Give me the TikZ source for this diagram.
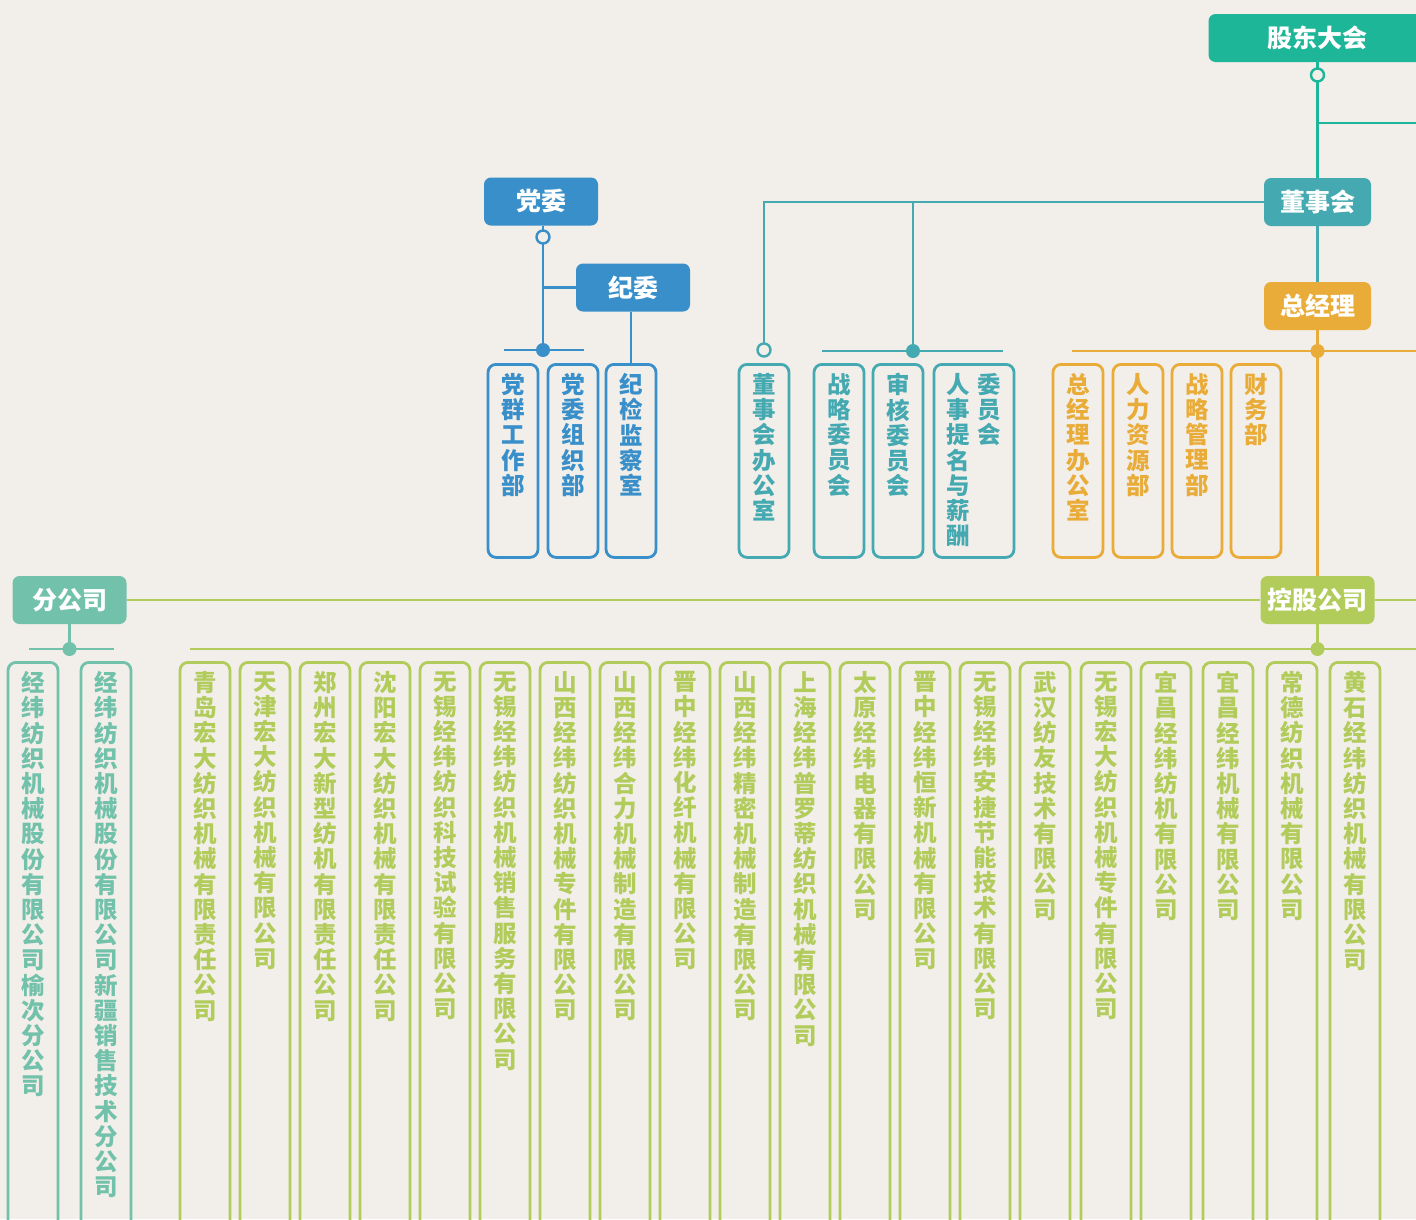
\documentclass[tikz,border=0pt]{standalone}
\usepackage{fontspec}
\usepackage{xcolor}
\usetikzlibrary{positioning}
\newfontfamily\cjk{Noto Sans CJK SC}

\definecolor{bgpaper}{HTML}{F2EEE9}
\definecolor{gudong}{HTML}{1EB698}
\definecolor{dongshi}{HTML}{45A9B1}
\definecolor{jingli}{HTML}{E9AC38}
\definecolor{dangwei}{HTML}{388FC9}
\definecolor{fengs}{HTML}{72C1AA}
\definecolor{konggu}{HTML}{B2CC5C}

\makeatletter
% one column of characters, read top to bottom
\newcommand\colchars[2]{\begin{minipage}[t][#1][t]{1.1em}\centering
  \edef\cc@list{#2}\expandafter\cc@loop\cc@list\@nil\end{minipage}}
\def\cc@loop#1{\ifx#1\@nil\else#1\par\expandafter\cc@loop\fi}
\makeatother

\begin{document}
\begin{tikzpicture}[x=1pt,y=-1pt,
  head/.style={rounded corners=7pt,text=white,inner sep=0pt,
    minimum width=114pt,minimum height=48pt,
    font=\cjk\bfseries\fontsize{25}{28}\selectfont},
  unit/.style={draw,line width=2.8pt,rounded corners=8pt,anchor=north,
    inner sep=0pt,minimum width=50pt,
    font=\cjk\bfseries\fontsize{23.5}{25.2}\selectfont},
  upper/.style={unit,minimum height=193pt},
  lower/.style={unit,minimum height=580pt},
  link/.style={line width=2.8pt},
  hollow/.style={circle,draw=#1,line width=2.4pt,fill=bgpaper,inner sep=0pt,minimum size=13pt},
  joint/.style={circle,fill=#1,inner sep=0pt,minimum size=14pt}]
\useasboundingbox (0,0) rectangle (1416,1219);
\fill[bgpaper] (0,0) rectangle (1416,1219);

% heads
\node[head,fill=gudong,minimum width=218pt] (gd) at (1317.5,38) {股东大会};
\node[head,fill=dongshi,minimum width=107pt] (dsh) at (1317.5,202) {董事会};
\node[head,fill=jingli,minimum width=107pt] (zjl) at (1317.5,306) {总经理};
\node[head,fill=dangwei] (dw) at (541,201.5) {党委};
\node[head,fill=dangwei] (jw) at (633,287.5) {纪委};
\node[head,fill=fengs] (fgs) at (69.5,600) {分公司};
\node[head,fill=konggu] (kg) at (1317.5,600) {控股公司};

% departments
\foreach \px/\nm [count=\i] in {513/党群工作部,573/党委组织部,631/纪检监察室}
  \node[upper,dangwei] (d\i) at (\px,363) {\colchars{175pt}{\nm}};
\foreach \px/\nm [count=\i] in {764/董事会办公室,839/战略委员会,898/审核委员会}
  \node[upper,dongshi] (t\i) at (\px,363) {\colchars{175pt}{\nm}};
\node[upper,dongshi,minimum width=80pt] (t4) at (974,363)
  {\colchars{175pt}{人事提名与薪酬}\hspace{5pt}\colchars{175pt}{委员会}};
\foreach \px/\nm [count=\i] in {1078/总经理办公室,1138/人力资源部,1197/战略管理部,1256/财务部}
  \node[upper,jingli] (g\i) at (\px,363) {\colchars{175pt}{\nm}};

% companies
\foreach \px/\nm [count=\i] in {33/经纬纺织机械股份有限公司榆次分公司,
    106/经纬纺织机械股份有限公司新疆销售技术分公司}
  \node[lower,fengs] (f\i) at (\px,661) {\colchars{562pt}{\nm}};
\foreach \px/\nm [count=\i] in {205/青岛宏大纺织机械有限责任公司,265/天津宏大纺织机械有限公司,
    325/郑州宏大新型纺机有限责任公司,385/沈阳宏大纺织机械有限责任公司,
    445/无锡经纬纺织科技试验有限公司,505/无锡经纬纺织机械销售服务有限公司,
    565/山西经纬纺织机械专件有限公司,625/山西经纬合力机械制造有限公司,
    685/晋中经纬化纤机械有限公司,745/山西经纬精密机械制造有限公司,
    805/上海经纬普罗蒂纺织机械有限公司,865/太原经纬电器有限公司,
    925/晋中经纬恒新机械有限公司,985/无锡经纬安捷节能技术有限公司,
    1045/武汉纺友技术有限公司,1106/无锡宏大纺织机械专件有限公司,
    1166/宜昌经纬纺机有限公司,1228/宜昌经纬机械有限公司,
    1292/常德纺织机械有限公司,1355/黄石经纬纺织机械有限公司}
  \node[lower,konggu] (k\i) at (\px,661) {\colchars{562pt}{\nm}};

% joints and bar ends
\node[joint=dangwei] (dwj) at (543,350) {};
\node[joint=dongshi] (dsj) at (913,351) {};
\node[joint=jingli] (zjj) at (1317.5,351) {};
\node[joint=fengs] (fgj) at (69.5,649) {};
\node[joint=konggu] (kgj) at (1317.5,649) {};
\coordinate (gdr) at (1416,123);
\coordinate (dwl) at (504,350);  \coordinate (dwr) at (584,350);
\coordinate (dsl) at (822,351);  \coordinate (dsr) at (1003,351);
\coordinate (zjl-l) at (1072,351); \coordinate (zjl-r) at (1416,351);
\coordinate (kgr) at (1416,600);
\coordinate (fgl) at (29,649);   \coordinate (fgr) at (114,649);
\coordinate (kgl) at (190,649);  \coordinate (kgr2) at (1416,649);

% connectors
\draw[link,gudong] (gd) -- (dsh);
\draw[link,gudong] (gd.south |- gdr) -- (gdr);
\draw[link,dongshi] (dsh) -- (zjl);
\draw[link,dongshi] (dsh.west) -| (t1.north |- dsj);
\draw[link,dongshi] (dsh.west -| dsj) -- (dsj);
\draw[link,dongshi] (dsl) -- (dsr);
\draw[link,dangwei] (dw.south -| dwj) -- (dwj);
\draw[link,dangwei] (dwj |- jw) -- (jw);
\draw[link,dangwei] (dwl) -- (dwr);
\draw[link,dangwei] (jw.south -| d3.north) -- (d3.north);
\draw[link,jingli] (zjl) -- (zjj) -- (kg);
\draw[link,jingli] (zjl-l) -- (zjl-r);
\draw[link,konggu] (fgs) -- (kg) -- (kgr);
\draw[link,fengs] (fgs) -- (fgj);
\draw[link,fengs] (fgl) -- (fgr);
\draw[link,konggu] (kg) -- (kgj);
\draw[link,konggu] (kgl) -- (kgr2);
\node[hollow=gudong] (gdc) at (1317.5,75) {};
\node[hollow=dangwei] (dwc) at (543,237) {};
\node[hollow=dongshi] (dsc) at (764,350) {};
\end{tikzpicture}
\end{document}
